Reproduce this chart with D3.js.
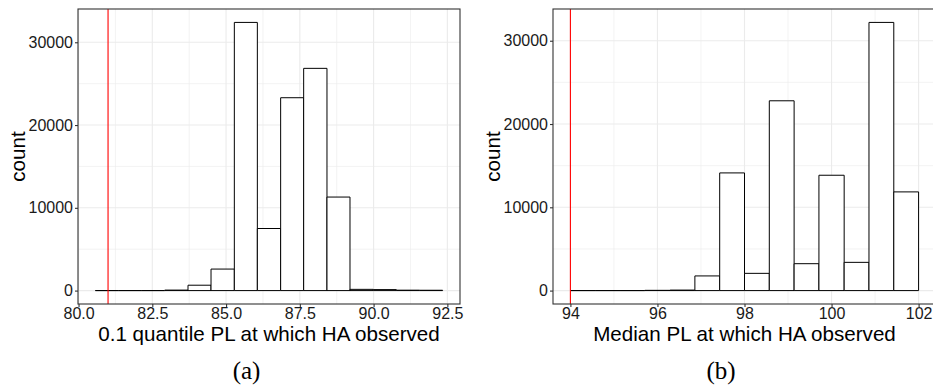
<!DOCTYPE html>
<html>
<head>
<meta charset="utf-8">
<script src="https://cdn.jsdelivr.net/npm/d3@7"></script>
<style>
  body { margin: 0; background: #fff; }
  svg { display: block; }
</style>
</head>
<body>
<svg id="chart" width="933" height="390"></svg>
<script>
// bin edges and counts
const binsA = [80.57, 81.35, 82.14, 82.92, 83.71, 84.49, 85.28, 86.06, 86.85, 87.63, 88.42, 89.20, 89.99, 90.77, 91.56, 92.34];
const countsA = [0, 0, 0, 60, 650, 2600, 32400, 7500, 23300, 26850, 11300, 150, 120, 50, 40];
const xTicksA = [80.0, 82.5, 85.0, 87.5, 90.0, 92.5];
const refLineA = 81.0;

const binsB = [94, 94.57, 95.14, 95.71, 96.29, 96.86, 97.43, 98, 98.57, 99.14, 99.71, 100.29, 100.86, 101.43, 102];
const countsB = [0, 0, 0, 30, 60, 1760, 14130, 2070, 22790, 3230, 13850, 3390, 32200, 11850];
const xTicksB = [94, 96, 98, 100, 102];
const refLineB = 94;

const yTicks = [0, 10000, 20000, 30000];

const svg = d3.select("#chart");
const sans = "'Liberation Sans', Arial, Helvetica, sans-serif";

function drawPanel(opts) {
    const { bins, counts, xTicks, xMinor, refLine, left, right, top, bottom, xFormat, xLabel, caption } = opts;
    const lo = bins[0], hi = bins[bins.length - 1];
    const pad = (hi - lo) * 0.05;
    const maxC = d3.max(counts);

    const x = d3.scaleLinear().domain([lo - pad, hi + pad]).range([left, right]);
    const y = d3.scaleLinear().domain([-0.05 * maxC, 1.05 * maxC]).range([bottom, top]);

    const g = svg.append("g");

    // clip so the panel can run off the page like the original
    const clipId = "clip" + caption.replace(/\W/g, "");
    g.append("clipPath").attr("id", clipId)
        .append("rect").attr("x", left).attr("y", top)
        .attr("width", right - left).attr("height", bottom - top);

    const inner = g.append("g").attr("clip-path", `url(#${clipId})`);

    // minor grid
    const yMinor = [5000, 15000, 25000];
    inner.selectAll(".gxm").data(xMinor).enter().append("line")
        .attr("x1", d => x(d)).attr("x2", d => x(d))
        .attr("y1", top).attr("y2", bottom)
        .attr("stroke", "#ebebeb").attr("stroke-width", 0.6);
    inner.selectAll(".gym").data(yMinor).enter().append("line")
        .attr("x1", left).attr("x2", right)
        .attr("y1", d => y(d)).attr("y2", d => y(d))
        .attr("stroke", "#ebebeb").attr("stroke-width", 0.6);

    // major grid
    inner.selectAll(".gx").data(xTicks).enter().append("line")
        .attr("x1", d => x(d)).attr("x2", d => x(d))
        .attr("y1", top).attr("y2", bottom)
        .attr("stroke", "#ebebeb").attr("stroke-width", 1.1);
    inner.selectAll(".gy").data(yTicks).enter().append("line")
        .attr("x1", left).attr("x2", right)
        .attr("y1", d => y(d)).attr("y2", d => y(d))
        .attr("stroke", "#ebebeb").attr("stroke-width", 1.1);

    // histogram bars, drawn as closed paths so empty bins still show as a flat line
    inner.selectAll(".bar").data(counts).enter().append("path")
        .attr("d", (d, i) => {
            const x0 = x(bins[i]), x1 = x(bins[i + 1]), y0 = y(0), y1 = y(d);
            return `M${x0},${y0}L${x0},${y1}L${x1},${y1}L${x1},${y0}Z`;
        })
        .attr("fill", "#fff")
        .attr("stroke", "#000")
        .attr("stroke-width", 1);

    // reference line
    inner.append("line")
        .attr("x1", x(refLine)).attr("x2", x(refLine))
        .attr("y1", top).attr("y2", bottom)
        .attr("stroke", "red").attr("stroke-width", 1.1);

    // panel border
    g.append("rect")
        .attr("x", left).attr("y", top)
        .attr("width", right - left).attr("height", bottom - top)
        .attr("fill", "none").attr("stroke", "#333").attr("stroke-width", 1.1);

    // axes
    const xAxis = g.append("g")
        .attr("transform", `translate(0,${bottom})`)
        .call(d3.axisBottom(x).tickValues(xTicks).tickFormat(xFormat).tickSizeOuter(0).tickSize(3).tickPadding(1));
    const yAxis = g.append("g")
        .attr("transform", `translate(${left},0)`)
        .call(d3.axisLeft(y).tickValues(yTicks).tickFormat(d3.format("d")).tickSizeOuter(0).tickSize(3).tickPadding(2));

    [xAxis, yAxis].forEach(a => {
        a.select(".domain").remove();
        a.selectAll(".tick line").attr("stroke", "#333").attr("stroke-width", 1.1);
        a.selectAll(".tick text")
            .attr("fill", "#1a1a1a")
            .style("font-family", sans)
            .style("font-size", "16px");
    });

    // axis titles
    g.append("text")
        .attr("x", (left + right) / 2)
        .attr("y", 341)
        .attr("text-anchor", "middle")
        .style("font-family", sans)
        .style("font-size", "20.6px")
        .text(xLabel);

    g.append("text")
        .attr("transform", `translate(${left - 53},${(top + bottom) / 2}) rotate(-90)`)
        .attr("text-anchor", "middle")
        .style("font-family", sans)
        .style("font-size", "20.6px")
        .text("count");

    // sub-figure caption
    g.append("text")
        .attr("x", opts.captionX)
        .attr("y", 379)
        .attr("text-anchor", "middle")
        .style("font-family", "'Liberation Serif', 'DejaVu Serif', serif")
        .style("font-size", "25px")
        .text(caption);
}

drawPanel({
    bins: binsA, counts: countsA, xTicks: xTicksA,
    xMinor: [81.25, 83.75, 86.25, 88.75, 91.25],
    refLine: refLineA,
    left: 78, right: 460, top: 9, bottom: 304,
    xFormat: d3.format(".1f"),
    xLabel: "0.1 quantile PL at which HA observed",
    caption: "(a)", captionX: 246.5
});

drawPanel({
    bins: binsB, counts: countsB, xTicks: xTicksB,
    xMinor: [95, 97, 99, 101],
    refLine: refLineB,
    left: 553, right: 936, top: 9, bottom: 304,
    xFormat: d3.format("d"),
    xLabel: "Median PL at which HA observed",
    caption: "(b)", captionX: 721
});
</script>
</body>
</html>
